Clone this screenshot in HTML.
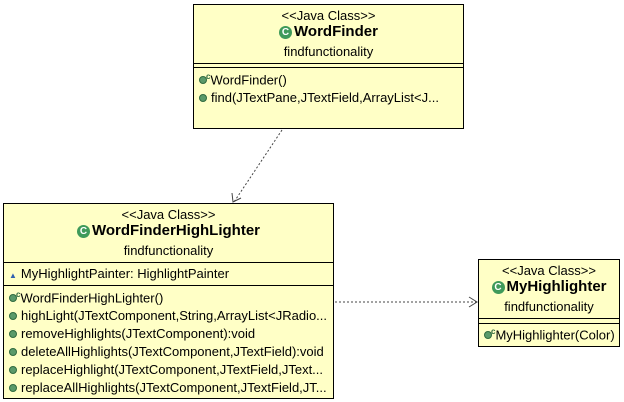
<!DOCTYPE html>
<html><head><style>
body{margin:0;width:624px;height:402px;background:#fff;position:relative;overflow:hidden;font-family:"Liberation Sans",Arial,sans-serif;font-size:13px;letter-spacing:0;color:#000}
.box{position:absolute;background:#ffffc6;border:1px solid #000;box-sizing:border-box}
.t{position:absolute;left:0;right:0;text-align:center;white-space:nowrap}
.hl{position:absolute;left:0;right:0;height:1px;background:#000}
.r{position:absolute;left:5px;white-space:nowrap}
.dot{display:inline-block;width:8px;height:8px;border-radius:50%;background:#5a9a6a;border:1px solid #2f6a3f;box-sizing:border-box;margin-right:4px;vertical-align:0}
.ci{display:inline-block;width:13px;height:13px;border-radius:50%;background:#3f9a5a;color:#fff;font-size:10px;line-height:13px;text-align:center;font-weight:bold;vertical-align:1px;margin-right:2px}
b{font-size:15px}
sup{font-size:8px;color:#2f6a3f;margin-left:-5px;font-weight:bold}
</style></head><body>
<svg width="624" height="402" style="position:absolute;left:0;top:0">
<line x1="282" y1="130" x2="234" y2="202" stroke="#444" stroke-dasharray="2,2"/>
<polyline points="232,193 233,202 241,198" fill="none" stroke="#444"/>
<line x1="335" y1="302" x2="477" y2="302" stroke="#444" stroke-dasharray="2,2"/>
<polyline points="469,297 477,302 469,307" fill="none" stroke="#444"/>
</svg>

<div class="box" style="left:193px;top:4px;width:271px;height:125px">
<div class="t" style="top:3px">&lt;&lt;Java Class&gt;&gt;</div>
<div class="t" style="top:18px"><span class="ci">C</span><b>WordFinder</b></div>
<div class="t" style="top:39px">findfunctionality</div>
<div class="hl" style="top:58px"></div><div class="hl" style="top:62px"></div>
<div class="r" style="top:67px"><span class="dot"></span><sup>c</sup>WordFinder()</div>
<div class="r" style="top:85px"><span class="dot"></span>find(JTextPane,JTextField,ArrayList&lt;J...</div>
</div>

<div class="box" style="left:3px;top:203px;width:331px;height:196px">
<div class="t" style="top:3px">&lt;&lt;Java Class&gt;&gt;</div>
<div class="t" style="top:18px"><span class="ci">C</span><b>WordFinderHighLighter</b></div>
<div class="t" style="top:39px">findfunctionality</div>
<div class="hl" style="top:58px"></div>
<div class="r" style="top:62px"><span style="color:#3060b0;font-size:8px;margin-right:4px">&#9650;</span>MyHighlightPainter: HighlightPainter</div>
<div class="hl" style="top:81px"></div>
<div class="r" style="top:86px"><span class="dot"></span><sup>c</sup>WordFinderHighLighter()</div>
<div class="r" style="top:104px"><span class="dot"></span>highLight(JTextComponent,String,ArrayList&lt;JRadio...</div>
<div class="r" style="top:122px"><span class="dot"></span>removeHighlights(JTextComponent):void</div>
<div class="r" style="top:140px"><span class="dot"></span>deleteAllHighlights(JTextComponent,JTextField):void</div>
<div class="r" style="top:158px"><span class="dot"></span>replaceHighlight(JTextComponent,JTextField,JText...</div>
<div class="r" style="top:176px"><span class="dot"></span>replaceAllHighlights(JTextComponent,JTextField,JT...</div>
</div>

<div class="box" style="left:478px;top:259px;width:142px;height:88px">
<div class="t" style="top:3px">&lt;&lt;Java Class&gt;&gt;</div>
<div class="t" style="top:18px"><span class="ci">C</span><b>MyHighlighter</b></div>
<div class="t" style="top:39px">findfunctionality</div>
<div class="hl" style="top:58px"></div><div class="hl" style="top:63px"></div>
<div class="r" style="top:67px;left:5px"><span class="dot"></span><sup>c</sup>MyHighlighter(Color)</div>
</div>
</body></html>
